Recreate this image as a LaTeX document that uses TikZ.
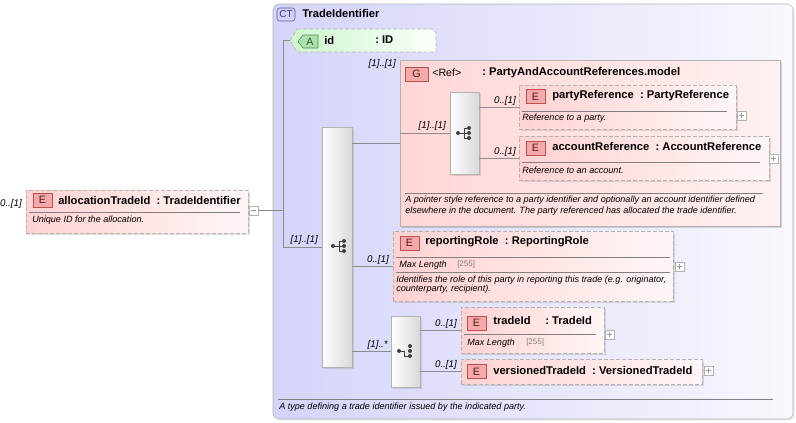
\documentclass[tikz,border=0pt]{standalone}
\usepackage{fontspec}
\setmainfont{Liberation Sans}
\usepackage{tikz}
\usetikzlibrary{fit,shadows}
\definecolor{ctL}{RGB}{212,212,250}
\definecolor{ctR}{RGB}{248,248,253}
\definecolor{pinkL}{RGB}{255,210,210}
\definecolor{pinkR}{RGB}{255,246,246}
\definecolor{grpL}{RGB}{255,214,214}
\definecolor{grpR}{RGB}{255,240,240}
\definecolor{attL}{RGB}{206,246,206}
\definecolor{attR}{RGB}{250,255,250}
\definecolor{eFill}{RGB}{244,170,170}
\definecolor{eLine}{RGB}{190,80,80}
\definecolor{eText}{RGB}{90,20,20}
\definecolor{aFill}{RGB}{176,224,176}
\definecolor{aLine}{RGB}{70,140,70}
\definecolor{ctFill}{RGB}{208,208,248}
\definecolor{ctLine}{RGB}{90,90,160}
\definecolor{wire}{RGB}{140,140,140}

\begin{document}
\begin{tikzpicture}[x=0.75pt,y=-0.75pt,
    box/.style={inner sep=0pt, draw=gray!60},
    elem/.style={box, dashed, dash pattern=on 3pt off 1.5pt, left color=pinkL, right color=pinkR,
        drop shadow={shadow xshift=1.2pt, shadow yshift=-1.2pt, opacity=.25}},
    seqbox/.style={box, left color=white, right color=gray!30,
        drop shadow={shadow xshift=1.2pt, shadow yshift=-1.2pt, opacity=.25}},
    badge/.style={draw=eLine, fill=eFill, inner sep=0pt, minimum width=14.25pt, minimum height=10.5pt,
        text=eText, font=\fontsize{8}{8}\selectfont},
    nm/.style={anchor=west, inner sep=0pt, font=\fontsize{8.4}{10}\bfseries},
    ds/.style={anchor=west, inner sep=0pt, font=\fontsize{6.8}{8}\itshape},
    card/.style={anchor=east, inner sep=0pt, font=\fontsize{7.3}{8}\itshape},
    grey/.style={anchor=west, inner sep=0pt, font=\fontsize{6}{8}\selectfont, text=gray},
    sepline/.style={draw=gray},
    pm/.style={draw=gray!60, fill=white, inner sep=0pt, minimum size=6.75pt},
    plus/.style={pm, path picture={\draw[gray!80]
        ([xshift=1.4pt]path picture bounding box.west) -- ([xshift=-1.4pt]path picture bounding box.east)
        ([yshift=-1.4pt]path picture bounding box.north) -- ([yshift=1.4pt]path picture bounding box.south);}},
    minus/.style={pm, path picture={\draw[gray!80]
        ([xshift=1.4pt]path picture bounding box.west) -- ([xshift=-1.4pt]path picture bounding box.east);}},
    seqicon/.pic={
        \draw[black!75, line width=0.7pt] (-7,0) -- (-1,0) (-1,-5) -- (-1,5) (-1,-5) -- (4,-5) (-1,5) -- (4,5) (-1,0) -- (4,0);
        \foreach \dy in {-5,0,5} \fill[black!75] (4,\dy) circle (1.5pt);
        \fill[black!75] (-7,0) circle (1.5pt);
    },
    choiceicon/.pic={
        \draw[black!75, line width=0.7pt] (-7,0) -- (-2,0) -- (-2,5) -- (4,5);
        \foreach \dy in {-5,0,5} \fill[black!75] (4,\dy) circle (1.5pt);
        \fill[black!75] (-7,0) circle (1.5pt);
    }]
    \useasboundingbox (0,0) rectangle (796,422);

    \node[box, fit={(273,4) (793,419)}, left color=ctL, right color=ctR, rounded corners=4.5pt,
        drop shadow={shadow xshift=1pt, shadow yshift=-1pt, opacity=.2}] (ct) {};
    \node[draw=ctLine, fill=ctFill, rounded corners=2pt, inner sep=0pt, minimum width=13.5pt, minimum height=9.75pt,
        font=\fontsize{7.5}{8}\selectfont, text=ctLine!70!black] (ctbadge) at (286,14.5) {CT};
    \node[nm] (ctname) at (302,13) {TradeIdentifier};
    \draw[sepline] (278,399) -- (773,399);
    \node[ds] (ctdesc) at (279,407) {A type defining a trade identifier issued by the indicated party.};

    \node[elem, fit={(26,190) (248,233)}] (alloc) {};
    \node[badge] (allocE) at (42.5,200) {E};
    \node[nm] (allocname) at (58,200) {allocationTradeId\ \ :\ TradeIdentifier};
    \draw[sepline] (29,212) -- (240,212);
    \node[ds] (allocdesc) at (32,220) {Unique ID for the allocation.};
    \node[card] (alloccard) at (22,204) {0..[1]};
    \node[minus] (allocx) at (253.5,210.5) {};

    \draw[dashed, dash pattern=on 3pt off 1.5pt, draw=gray!60, left color=attL, right color=attR]
        (297,29) -- (432,29) -- (436,33) -- (436,52) -- (297,52) -- (290,40.5) -- cycle;
    \coordinate (idtip) at (290,40.5);
    \draw[draw=aLine, fill=aFill] (303,35) -- (318,35) -- (318,48) -- (303,48) -- (298,41.5) -- cycle;
    \node[inner sep=0pt, font=\fontsize{8}{8}\selectfont, text=aLine!60!black] (idA) at (310,41.5) {A};
    \node[nm] (idname) at (324,40) {id};
    \node[nm] (idtype) at (375,40) {:\ ID};

    \node[box, fit={(400,60) (780,226)}, left color=grpL, right color=grpR,
        drop shadow={shadow xshift=1.5pt, shadow yshift=-1.5pt, opacity=.3}] (grp) {};
    \node[card] (grpcard) at (396,64) {[1]..[1]};
    \node[badge, minimum width=17.25pt] (grpG) at (416.5,74) {G};
    \node[anchor=west, inner sep=0pt, font=\fontsize{8}{10}\selectfont] (grpref) at (432,73) {<Ref>};
    \node[nm] (grpname) at (482,73) {:\ PartyAndAccountReferences.model};
    \draw[sepline] (405,193) -- (763,193);
    \node[ds] (grpdesc1) at (405,200) {A pointer style reference to a party identifier and optionally an account identifier defined};
    \node[ds] (grpdesc2) at (405,211) {elsewhere in the document. The party referenced has allocated the trade identifier.};

    \node[seqbox, fit={(450,92) (479,174)}] (seqB) {};
    \pic at (465,133) {seqicon};
    \node[card] (seqBcard) at (446,126) {[1]..[1]};

    \node[elem, fit={(519,85) (736,129)}] (party) {};
    \node[badge] (partyE) at (535.5,96.5) {E};
    \node[nm] (partyname) at (552,96) {partyReference\ \ :\ PartyReference};
    \draw[sepline] (522,111) -- (727,111);
    \node[ds] (partydesc) at (522,118) {Reference to a party.};
    \node[plus] (partyx) at (741.5,115.5) {};
    \node[card] (partycard) at (516,101) {0..[1]};

    \node[elem, fit={(519,136) (769,180)}] (acct) {};
    \node[badge] (acctE) at (535.5,148) {E};
    \node[nm] (acctname) at (552,146) {accountReference\ \ :\ AccountReference};
    \draw[sepline] (522,162) -- (760,162);
    \node[ds] (acctdesc) at (522,170) {Reference to an account.};
    \node[plus] (acctx) at (773.5,158.5) {};
    \node[card] (acctcard) at (516,152) {0..[1]};

    \node[seqbox, fit={(322,127) (352,367)}] (seqA) {};
    \pic at (340,246) {seqicon};
    \node[card] (seqAcard) at (318,240) {[1]..[1]};

    \node[elem, fit={(393,231) (673,301)}] (role) {};
    \node[badge] (roleE) at (409.5,243) {E};
    \node[nm] (rolename) at (425,242) {reportingRole\ \ :\ ReportingRole};
    \draw[sepline] (396,257) -- (670,257);
    \node[ds] (rolemax) at (399,265) {Max Length};
    \node[grey] (rolelen) at (457,264) {[255]};
    \draw[sepline] (396,272) -- (670,272);
    \node[ds] (roledesc1) at (396,280) {Identifies the role of this party in reporting this trade (e.g. originator,};
    \node[ds] (roledesc2) at (396,289) {counterparty, recipient).};
    \node[plus] (rolex) at (679.5,266.5) {};
    \node[card] (rolecard) at (389,260) {0..[1]};

    \node[seqbox, fit={(391,316) (420,387)}] (choice) {};
    \pic at (406,351) {choiceicon};
    \node[card] (choicecard) at (388,345) {[1]..*};

    \node[elem, fit={(461,307) (604,353)}] (trade) {};
    \node[badge] (tradeE) at (476.5,323) {E};
    \node[nm] (tradename) at (493,320) {tradeId};
    \node[nm] (tradetype) at (545,320) {:\ TradeId};
    \draw[sepline] (464,334) -- (596,334);
    \node[ds] (trademax) at (467,343) {Max Length};
    \node[grey] (tradelen) at (526,342) {[255]};
    \node[plus] (tradex) at (609.5,334.5) {};
    \node[card] (tradecard) at (457,324) {0..[1]};

    \node[elem, fit={(461,359) (702,384)}] (ver) {};
    \node[badge] (verE) at (476.5,371.5) {E};
    \node[nm] (vername) at (493,370) {versionedTradeId\ \ :\ VersionedTradeId};
    \node[plus] (verx) at (708.5,370.5) {};
    \node[card] (vercard) at (457,365) {0..[1]};

    \coordinate (jtop) at (283,40.5);
    \coordinate (jmid) at (283,210.5);
    \coordinate (jbot) at (283,247);
    \draw[wire] (idtip) -- (jtop) -- (jbot) -- (seqA.west |- jbot);
    \draw[wire] (allocx.east) -- (jmid);
    \draw[wire] (seqA.east |- grp.west) -- (grp.west);
    \draw[wire] (grp.west |- seqB.west) -- (seqB.west);
    \draw[wire] (seqB.east |- party.west) -- (party.west);
    \draw[wire] (seqB.east |- acct.west) -- (acct.west);
    \draw[wire] (seqA.east |- role.west) -- (role.west);
    \draw[wire] (seqA.east |- choice.west) -- (choice.west);
    \draw[wire] (choice.east |- trade.west) -- (trade.west);
    \draw[wire] (choice.east |- ver.west) -- (ver.west);
\end{tikzpicture}
\end{document}
